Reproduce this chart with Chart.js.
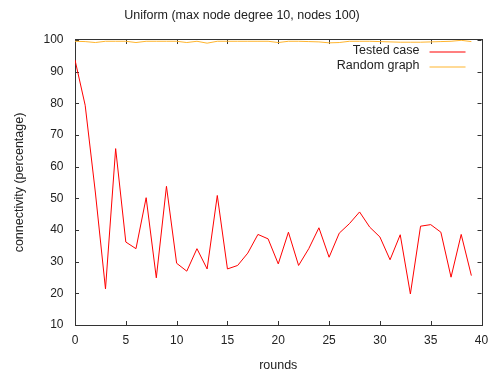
<!DOCTYPE html>
<html>
<head>
<meta charset="utf-8">
<script src="https://cdn.jsdelivr.net/npm/chart.js@4.4.0/dist/chart.umd.min.js"></script>
<style>
  html, body { margin: 0; padding: 0; background: #fff; }
  #wrap { width: 497px; height: 372px; }
</style>
</head>
<body>
<div id="wrap"><canvas id="chart" width="497" height="372"></canvas></div>
<script>
// rounds 0..39
const rounds = []
for (let i = 0; i < 40; i++) rounds.push(i)

const testedCase = [93.7, 79.4, 52.0, 21.4, 65.7, 36.2, 34.1, 50.2, 24.9, 53.8,
  29.5, 27.0, 34.1, 27.7, 50.9, 27.7, 28.8, 32.7, 38.6, 37.2,
  29.3, 39.3, 28.8, 34.1, 40.7, 31.4, 39.0, 42.0, 45.7, 40.9,
  37.8, 30.6, 38.5, 19.8, 41.2, 41.7, 39.3, 25.1, 38.6, 25.6]

const randomGraph = [99.6, 99.5, 99.2, 99.6, 99.6, 99.6, 99.2, 99.6, 99.6, 99.6,
  99.6, 99.2, 99.6, 99.0, 99.6, 99.6, 99.6, 99.6, 99.6, 99.6,
  99.2, 99.6, 99.6, 99.5, 99.4, 99.1, 99.2, 99.6, 99.6, 99.6,
  99.5, 99.4, 99.3, 99.3, 99.3, 99.4, 99.5, 99.6, 99.9, 99.5]

const xTicks = [0, 5, 10, 15, 20, 25, 30, 35, 40]
const yTicks = [10, 20, 30, 40, 50, 60, 70, 80, 90, 100]

const FONT = "'Liberation Sans', Arial, sans-serif"
const TEXT = "#222"
const RED = "#ff0000"
const ORANGE = "#ffb52e"

// cadre façon gnuplot, graduations vers l'intérieur
const gnuplotFrame = {
  id: "gnuplotFrame",
  beforeDatasetsDraw(chart) {
    const ctx = chart.ctx
    const a = chart.chartArea
    const xs = chart.scales.x
    const ys = chart.scales.y
    ctx.save()
    ctx.strokeStyle = "#333"
    ctx.lineWidth = 1
    ctx.beginPath()
    xTicks.forEach((v) => {
      const px = Math.round(xs.getPixelForValue(v)) + 0.5
      ctx.moveTo(px, a.bottom); ctx.lineTo(px, a.bottom - 4)
      ctx.moveTo(px, a.top); ctx.lineTo(px, a.top + 4)
    })
    yTicks.forEach((v) => {
      const py = Math.round(ys.getPixelForValue(v)) + 0.5
      ctx.moveTo(a.left, py); ctx.lineTo(a.left + 4, py)
      ctx.moveTo(a.right, py); ctx.lineTo(a.right - 4, py)
    })
    ctx.stroke()
    ctx.strokeRect(Math.round(a.left) + 0.5, Math.round(a.top) - 0.5,
      Math.round(a.right - a.left), Math.round(a.bottom - a.top) + 1)
    ctx.restore()
  },
  // légende : texte à gauche, échantillon de trait à droite
  afterDatasetsDraw(chart) {
    const ctx = chart.ctx
    const a = chart.chartArea
    ctx.save()
    ctx.font = "12.5px " + FONT
    ctx.textAlign = "right"
    ctx.textBaseline = "middle"
    const colors = [RED, ORANGE]
    chart.data.datasets.forEach((ds, i) => {
      const y = Math.round(a.top + 10.5 + i * 15.5)
      ctx.fillStyle = TEXT
      ctx.fillText(ds.label, a.right - 62, y)
      ctx.strokeStyle = colors[i]
      ctx.lineWidth = 1.2
      ctx.beginPath()
      ctx.moveTo(a.right - 52, y + 1)
      ctx.lineTo(a.right - 16, y + 1)
      ctx.stroke()
    })
    ctx.restore()
  },
}

new Chart(document.getElementById("chart").getContext("2d"), {
  type: "line",
  data: {
    labels: rounds,
    datasets: [
      {
        label: "Tested case",
        data: testedCase.map((v, i) => ({ x: rounds[i], y: v })),
        borderColor: RED,
        borderWidth: 1,
        pointRadius: 0,
        tension: 0,
      },
      {
        label: "Random graph",
        data: randomGraph.map((v, i) => ({ x: rounds[i], y: v })),
        borderColor: ORANGE,
        borderWidth: 1,
        pointRadius: 0,
        tension: 0,
      },
    ],
  },
  options: {
    responsive: false,
    animation: false,
    layout: { padding: { left: 0, right: 13, top: 0, bottom: 0 } },
    plugins: {
      legend: { display: false },
      tooltip: { enabled: false },
      title: {
        display: true,
        text: "Uniform (max node degree 10, nodes 100)",
        color: TEXT,
        font: { family: FONT, size: 12.5, weight: "normal" },
        padding: { top: 8.5, bottom: 16.5 },
      },
    },
    scales: {
      x: {
        type: "linear",
        min: 0,
        max: 40,
        afterBuildTicks(scale) { scale.ticks = xTicks.map((v) => ({ value: v })) },
        afterFit(scale) { scale.height = 47 },
        grid: { display: false, drawTicks: false },
        border: { display: false },
        ticks: { color: TEXT, font: { family: FONT, size: 12 }, padding: 8.8, maxRotation: 0 },
        title: {
          display: true,
          text: "rounds",
          color: TEXT,
          font: { family: FONT, size: 12.5, lineHeight: 1 },
          padding: { top: 8, bottom: 0 },
        },
      },
      y: {
        type: "linear",
        min: 10,
        max: 100,
        afterBuildTicks(scale) { scale.ticks = yTicks.map((v) => ({ value: v })) },
        afterFit(scale) { scale.width = 75 },
        grid: { display: false, drawTicks: false },
        border: { display: false },
        ticks: { color: TEXT, font: { family: FONT, size: 12 }, padding: 11.5 },
        title: {
          display: true,
          text: "connectivity (percentage)",
          color: TEXT,
          font: { family: FONT, size: 12.5 },
          padding: { top: 12.5, bottom: 0 },
        },
      },
    },
  },
  plugins: [gnuplotFrame],
})
</script>
</body>
</html>
